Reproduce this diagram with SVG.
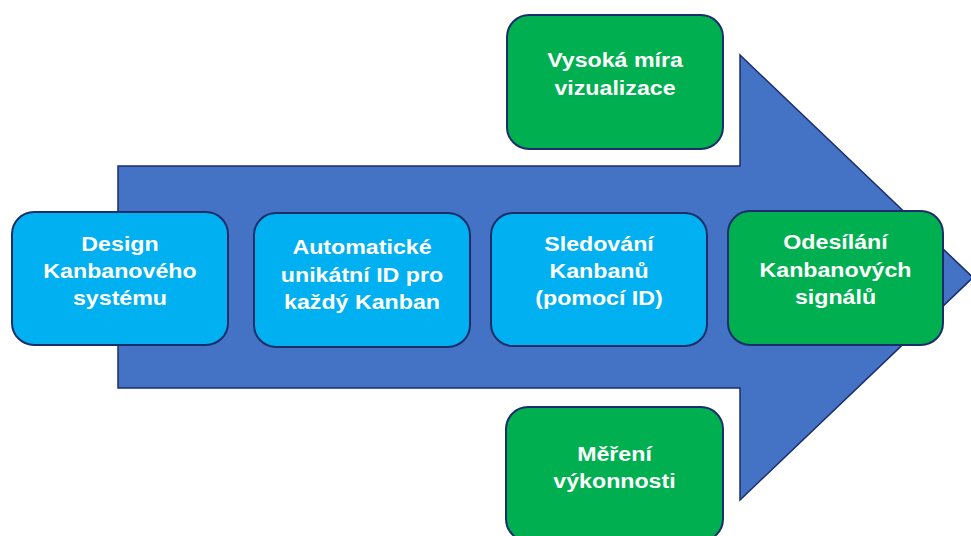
<svg xmlns="http://www.w3.org/2000/svg" width="971" height="536" viewBox="0 0 971 536">
<style>
.box{stroke:#1B2E6B;stroke-width:2}
.blue{fill:#00B0F0}
.green{fill:#00B050}
text{font-family:"Liberation Sans",Arial,sans-serif;font-weight:bold;font-size:20px;fill:#fff;text-anchor:middle}
</style>
<rect width="971" height="536" fill="#fff"/>
<g id="arrow">
<path d="M118,166 L740,166 L740,55 L973,277.5 L740,500 L740,388 L118,388 Z" fill="#4472C4" stroke="#1B2E6B" stroke-width="1.5"/>
</g>
<g id="n1"><rect class="box blue" x="12" y="212" width="216" height="133" rx="22"/>
<g transform="translate(120 0) scale(1.16 1)"><text x="0" y="251">Design</text><text x="0" y="278">Kanbanového</text><text x="0" y="305">systému</text></g></g>
<g id="n2"><rect class="box blue" x="254" y="213" width="216" height="134" rx="22"/>
<g transform="translate(362 0) scale(1.16 1)"><text x="0" y="254">Automatické</text><text x="0" y="282">unikátní ID pro</text><text x="0" y="309">každý Kanban</text></g></g>
<g id="n3"><rect class="box blue" x="491" y="213" width="216" height="133" rx="22"/>
<g transform="translate(599 0) scale(1.16 1)"><text x="0" y="251">Sledování</text><text x="0" y="278">Kanbanů</text><text x="0" y="305">(pomocí ID)</text></g></g>
<g id="n4"><rect class="box green" x="728" y="211" width="215" height="134" rx="22"/>
<g transform="translate(835.5 0) scale(1.16 1)"><text x="0" y="249">Odesílání</text><text x="0" y="277">Kanbanových</text><text x="0" y="304">signálů</text></g></g>
<g id="n5"><rect class="box green" x="507" y="15" width="216" height="134" rx="22"/>
<g transform="translate(615 0) scale(1.16 1)"><text x="0" y="67">Vysoká míra</text><text x="0" y="95">vizualizace</text></g></g>
<g id="n6"><rect class="box green" x="506" y="407" width="217" height="134" rx="22"/>
<g transform="translate(614.5 0) scale(1.16 1)"><text x="0" y="461">Měření</text><text x="0" y="488">výkonnosti</text></g></g>
<g id="connectors"></g>
</svg>
